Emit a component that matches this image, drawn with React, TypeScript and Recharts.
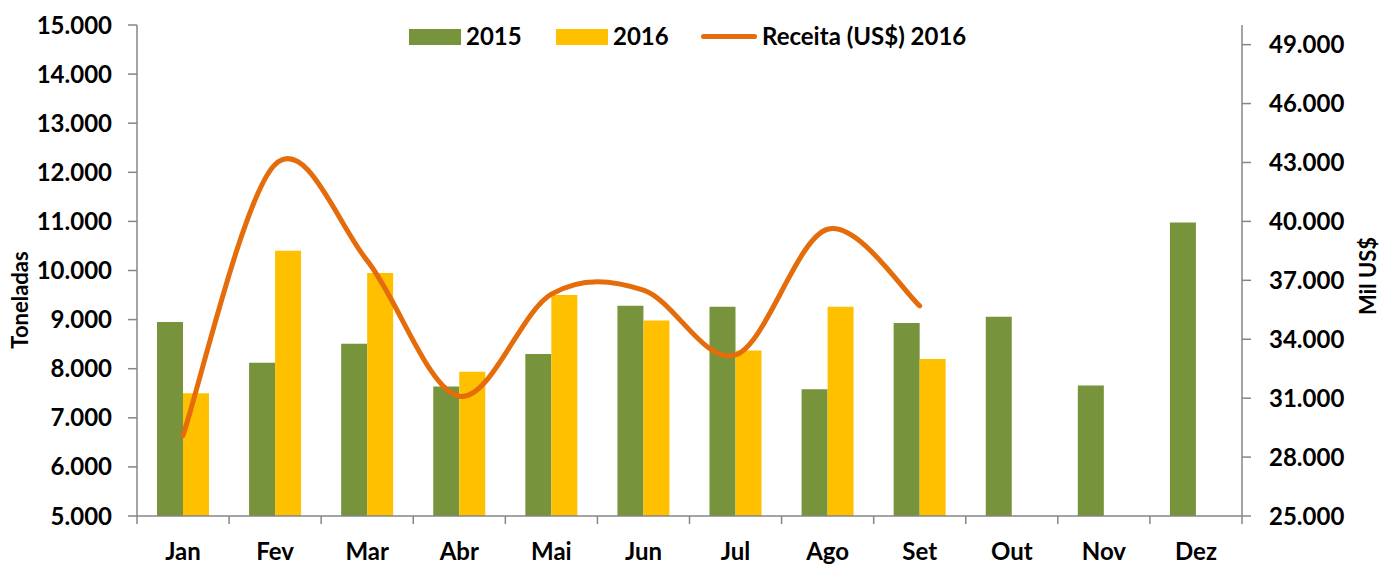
import { Bar, ComposedChart, Line, XAxis, YAxis } from "recharts";

const months = ["Jan", "Fev", "Mar", "Abr", "Mai", "Jun", "Jul", "Ago", "Set", "Out", "Nov", "Dez"];
const tons2015 = [8950, 8120, 8510, 7640, 8300, 9280, 9260, 7580, 8930, 9060, 7660, 10980];
const tons2016 = [7500, 10400, 9950, 7940, 9500, 8980, 8370, 9260, 8200, null, null, null];
const receita2016 = [29100, 42900, 38000, 31100, 36300, 36500, 33200, 39600, 35700, null, null, null];

const leftTicks = [5000, 6000, 7000, 8000, 9000, 10000, 11000, 12000, 13000, 14000, 15000];
const rightTicks = [25000, 28000, 31000, 34000, 37000, 40000, 43000, 46000, 49000];

const data = months.map((m, i) => ({
  month: m,
  t2015: tons2015[i],
  t2016: tons2016[i],
  rev: receita2016[i]
}));

const FONT = "Lato, 'Open Sans', sans-serif";
const AXIS = "#868686";
const PLOT_LEFT = 137;
const PLOT_RIGHT = 1242;
const AXIS_Y = 516;
const BAND = (PLOT_RIGHT - PLOT_LEFT) / months.length;

const fmt = (v: number) => `${Math.round(v / 1000)}.000`;

// excel-like smoothed line (catmull-rom style bezier)
function smoothCurve(context: any) {
  let pts: number[][] = [];
  return {
    areaStart() {},
    areaEnd() {},
    lineStart() {
      pts = [];
    },
    point(x: number, y: number) {
      pts.push([+x, +y]);
    },
    lineEnd() {
      if (!pts.length) return;
      context.moveTo(pts[0][0], pts[0][1]);
      const t = 1 / 6;
      for (let i = 0; i < pts.length - 1; i++) {
        const p0 = pts[i - 1] || pts[i];
        const p1 = pts[i];
        const p2 = pts[i + 1];
        const p3 = pts[i + 2] || p2;
        context.bezierCurveTo(
          p1[0] + (p2[0] - p0[0]) * t,
          p1[1] + (p2[1] - p0[1]) * t,
          p2[0] - (p3[0] - p1[0]) * t,
          p2[1] - (p3[1] - p1[1]) * t,
          p2[0],
          p2[1]
        );
      }
    }
  };
}

function MonthTick(props: any) {
  const { x, payload, index } = props;
  const left = x - BAND / 2;
  return (
    <g>
      <line x1={left} y1={AXIS_Y} x2={left} y2={AXIS_Y + 8} stroke={AXIS} strokeWidth={1.5} />
      {index === months.length - 1 && (
        <line x1={x + BAND / 2} y1={AXIS_Y} x2={x + BAND / 2} y2={AXIS_Y + 8} stroke={AXIS} strokeWidth={1.5} />
      )}
      <text x={x} y={560} textAnchor="middle" fontFamily={FONT} fontWeight={700} fontSize={24} fill="#000">
        {payload.value}
      </text>
    </g>
  );
}

function Legend() {
  const txt = { position: "absolute" as const, top: 22, fontFamily: FONT, fontWeight: 700, fontSize: 24, lineHeight: "28px", color: "#000" };
  return (
    <>
      <div style={{ position: "absolute", left: 409, top: 29, width: 52, height: 16, background: "#77933C" }} />
      <span style={{ ...txt, left: 466 }}>2015</span>
      <div style={{ position: "absolute", left: 556, top: 29, width: 52, height: 16, background: "#FFC000" }} />
      <span style={{ ...txt, left: 613 }}>2016</span>
      <div style={{ position: "absolute", left: 701, top: 34, width: 56, height: 5, borderRadius: 3, background: "#E46C0A" }} />
      <span style={{ ...txt, left: 762 }}>Receita (US$) 2016</span>
    </>
  );
}

export default function App() {
  return (
    <div style={{ position: "absolute", left: 0, top: 0, width: 1381, height: 565, background: "#fff" }}>
      <ComposedChart
        width={1381}
        height={565}
        data={data}
        margin={{ top: 25, right: 0, bottom: 0, left: 0 }}
        barGap={0}
        barSize={26}
      >
        <XAxis
          dataKey="month"
          height={49}
          stroke={AXIS}
          strokeWidth={1.5}
          tickLine={false}
          interval={0}
          tick={<MonthTick />}
        />
        <YAxis
          yAxisId="left"
          width={137}
          domain={[5000, 15000]}
          ticks={leftTicks}
          tickFormatter={fmt}
          stroke={AXIS}
          strokeWidth={1.5}
          tickSize={9}
          tickMargin={16}
          tick={{ fill: "#000", fontFamily: FONT, fontWeight: 700, fontSize: 24 }}
          label={{
            content: () => (
              <text transform="translate(28,300) rotate(-90)" textAnchor="middle" fontFamily={FONT} fontWeight={700} fontSize={22} fill="#000">
                Toneladas
              </text>
            )
          }}
        />
        <YAxis
          yAxisId="right"
          orientation="right"
          width={139}
          domain={[25000, 50000]}
          ticks={rightTicks}
          tickFormatter={fmt}
          stroke={AXIS}
          strokeWidth={1.5}
          tickSize={9}
          tickMargin={18}
          tick={{ fill: "#000", fontFamily: FONT, fontWeight: 700, fontSize: 24 }}
          label={{
            content: () => (
              <text transform="translate(1376,276) rotate(-90)" textAnchor="middle" fontFamily={FONT} fontWeight={700} fontSize={22} fill="#000">
                Mil US$
              </text>
            )
          }}
        />
        <Bar yAxisId="left" dataKey="t2015" fill="#77933C" isAnimationActive={false} />
        <Bar yAxisId="left" dataKey="t2016" fill="#FFC000" isAnimationActive={false} />
        <Line
          yAxisId="right"
          dataKey="rev"
          type={smoothCurve as any}
          stroke="#E46C0A"
          strokeWidth={5}
          strokeLinecap="round"
          dot={false}
          activeDot={false}
          isAnimationActive={false}
        />
      </ComposedChart>
      <Legend />
    </div>
  );
}
